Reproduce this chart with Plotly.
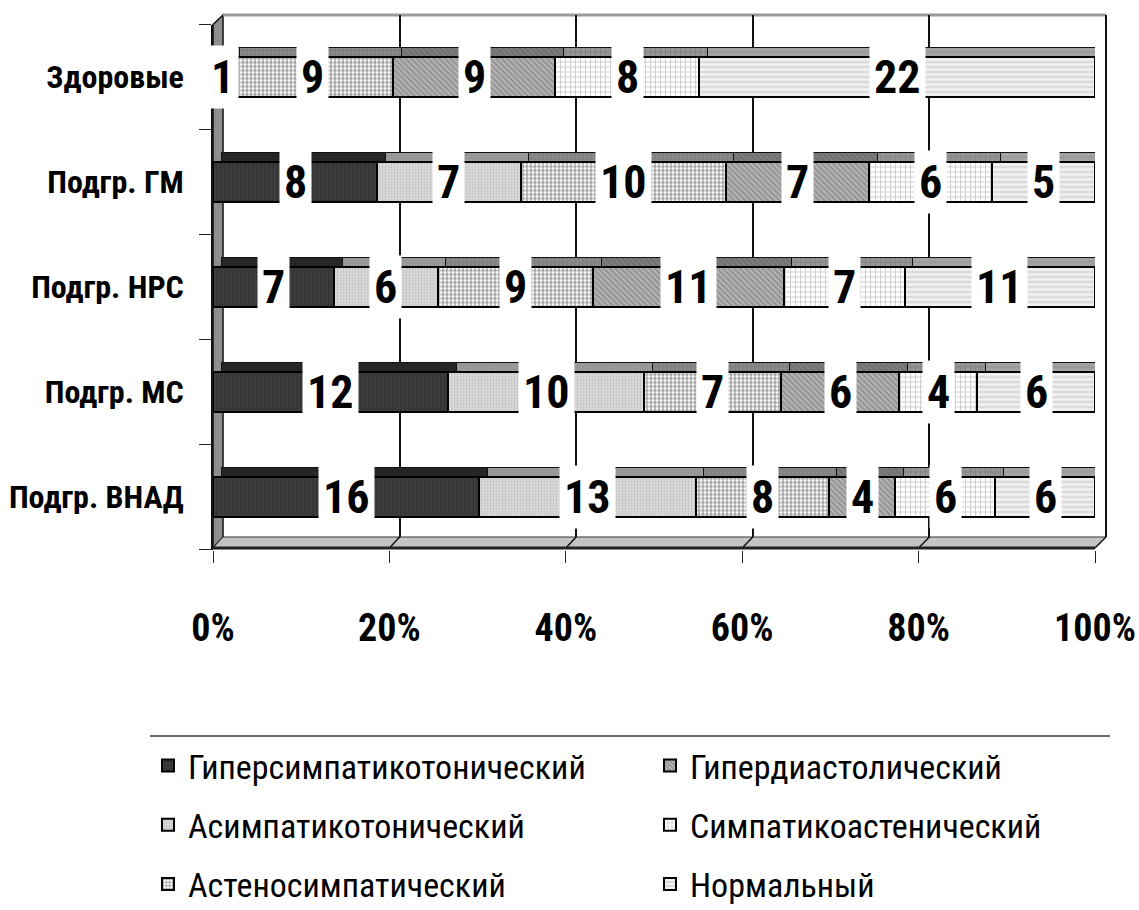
import numpy as np
import plotly.graph_objects as go

# ---- data -------------------------------------------------------------
groups = ["Здоровые", "Подгр. ГМ", "Подгр. НРС", "Подгр. МС", "Подгр. ВНАД"]
series_names = [
    "Гиперсимпатикотонический",
    "Асимпатикотонический",
    "Астеносимпатический",
    "Гипердиастолический",
    "Симпатикоастенический",
    "Нормальный",
]
hypersymp = [0, 8, 7, 12, 16]
asymp = [1, 7, 6, 10, 13]
asteno = [9, 10, 9, 7, 8]
hyperdiast = [9, 7, 11, 6, 4]
sympasth = [8, 6, 7, 4, 6]
normal = [22, 5, 11, 6, 6]
series_values = [hypersymp, asymp, asteno, hyperdiast, sympasth, normal]
x_ticks = [0, 20, 40, 60, 80, 100]
x_tick_text = ["0%", "20%", "40%", "60%", "80%", "100%"]

# ---- styles -----------------------------------------------------------
FONT = "Liberation Sans Narrow, Roboto Condensed, Arial Narrow, sans-serif"
front_styles = [
    dict(color="#353535", pattern=dict(shape=".", fgcolor="#4a4a4a", size=4, solidity=0.3)),
    dict(color="#dcdcdc", pattern=dict(shape=".", fgcolor="#9a9a9a", size=3, solidity=0.35)),
    dict(color="#ffffff", pattern=dict(shape="+", fgcolor="#111111", size=4, solidity=0.45)),
    dict(color="#b4b4b4", pattern=dict(shape="\\", fgcolor="#6a6a6a", size=4, solidity=0.45)),
    dict(color="#ffffff", pattern=dict(shape="+", fgcolor="#8a8a8a", size=5, solidity=0.3)),
    dict(color="#f2f2f2", pattern=dict(shape="-", fgcolor="#b8b8b8", size=5, solidity=0.4)),
]
top_styles = [
    dict(color="#262626"),
    dict(color="#9c9c9c", pattern=dict(shape=".", fgcolor="#808080", size=3, solidity=0.3)),
    dict(color="#8c8c8c", pattern=dict(shape="+", fgcolor="#5a5a5a", size=4, solidity=0.3)),
    dict(color="#7c7c7c", pattern=dict(shape="\\", fgcolor="#5a5a5a", size=4, solidity=0.3)),
    dict(color="#959595", pattern=dict(shape="+", fgcolor="#6e6e6e", size=5, solidity=0.3)),
    dict(color="#a3a3a3", pattern=dict(shape="-", fgcolor="#8a8a8a", size=5, solidity=0.3)),
]

# ---- geometry (page pixels) -------------------------------------------
W, H = 1139, 910
def px(x):
    return x / W
def py(y):
    return 1 - y / H

FX0, FX1 = 213, 1095          # front plane 0 %..100 %
FY0, FY1 = 24.5, 549.5        # front plane category band
WX0, WX1 = 223, 1106          # back wall 0 %..100 %
WY0, WY1 = 15, 537            # back wall top / floor
DX, DY = 8, 10                # depth of the bar top faces
BAR_W = 0.38

n_cat = len(groups)
cat_span = (FY1 - FY0) / n_cat
x_unit = (FX1 - FX0) / 100.0
y_lo, y_hi = -0.5, n_cat - 0.5
cat_order = groups[::-1]

fig = go.Figure()

# wall subplot: carries the back gridlines only
fig.add_trace(go.Scatter(x=[0, 100], y=[0, 1], mode="markers",
                         marker=dict(opacity=0), showlegend=False,
                         hoverinfo="skip", xaxis="x", yaxis="y"))

# top faces (drawn one depth step behind) and front faces of the bars
for i, (name, vals) in enumerate(zip(series_names, series_values)):
    fig.add_trace(go.Bar(
        y=groups, x=vals, orientation="h", width=BAR_W,
        marker=dict(line=dict(color="#111111", width=1), **top_styles[i]),
        showlegend=False, hoverinfo="skip", xaxis="x2", yaxis="y2",
    ))
for i, (name, vals) in enumerate(zip(series_names, series_values)):
    fig.add_trace(go.Bar(
        y=groups, x=vals, orientation="h", width=BAR_W, name=name,
        marker=dict(line=dict(color="#000000", width=2), **front_styles[i]),
        legend="legend" if i < 3 else "legend2", legendgroup=name,
        xaxis="x3", yaxis="y3",
    ))

# value labels on white boxes, centred on each segment
vals_arr = np.array(series_values, dtype=float)
totals = vals_arr.sum(axis=0)
shares = vals_arr / totals * 100
starts = np.cumsum(shares, axis=0) - shares
annotations = []
for i in range(len(series_names)):
    for j, g in enumerate(groups):
        v = series_values[i][j]
        if v == 0:
            continue
        annotations.append(dict(
            x=starts[i, j] + shares[i, j] / 2, y=g, xref="x3", yref="y3",
            text=f"<b>{v}</b>", showarrow=False, bgcolor="white", borderpad=4,
            font=dict(family=FONT, size=46, color="black"),
        ))

shapes = []
# left wall
shapes.append(dict(type="path", xref="paper", yref="paper", layer="below",
                   path=f"M{px(FX0)},{py(FY0)} L{px(WX0)},{py(WY0)} L{px(WX0)},{py(WY1)} "
                        f"L{px(FX0)},{py(548)} Z",
                   fillcolor="#8e8e8e", line=dict(color="#111111", width=1.5)))
# floor
shapes.append(dict(type="path", xref="paper", yref="paper", layer="below",
                   path=f"M{px(FX0)},{py(548)} L{px(FX1)},{py(548)} L{px(WX1)},{py(WY1)} "
                        f"L{px(WX0)},{py(WY1)} Z",
                   fillcolor="#c4c4c4", line=dict(color="#333333", width=1)))
# floor grid continuation from the wall to the front edge
for t in x_ticks[1:]:
    wx = WX0 + t / 100 * (WX1 - WX0)
    fx = FX0 + t / 100 * (FX1 - FX0)
    shapes.append(dict(type="line", xref="paper", yref="paper", layer="below",
                       x0=px(wx), y0=py(WY1), x1=px(fx), y1=py(548),
                       line=dict(color="#111111", width=1.5)))
# wall top edge and right edge
shapes.append(dict(type="line", xref="paper", yref="paper", layer="below",
                   x0=px(WX0), y0=py(WY0), x1=px(WX1), y1=py(WY0),
                   line=dict(color="#9a9a9a", width=3)))
shapes.append(dict(type="line", xref="paper", yref="paper", layer="below",
                   x0=px(WX1), y0=py(WY0), x1=px(WX1), y1=py(WY1),
                   line=dict(color="#111111", width=2)))
# front floor edge
shapes.append(dict(type="line", xref="paper", yref="paper", layer="below",
                   x0=px(FX0), y0=py(548), x1=px(FX1), y1=py(548),
                   line=dict(color="#222222", width=3)))
# legend frame top
shapes.append(dict(type="line", xref="paper", yref="paper",
                   x0=px(150), y0=py(736), x1=px(1110), y1=py(736),
                   line=dict(color="#6e6e6e", width=2)))

dx_units = DX / x_unit
dy_units = DY / cat_span

fig.update_layout(
    width=W, height=H,
    margin=dict(l=0, r=0, t=0, b=0, autoexpand=False),
    paper_bgcolor="white", plot_bgcolor="rgba(0,0,0,0)",
    barmode="stack", barnorm="percent",
    font=dict(family=FONT, color="black"),
    showlegend=True,
    xaxis=dict(domain=[px(WX0), px(WX1)], range=[0, 100], anchor="y",
               showgrid=True, gridcolor="#111111", gridwidth=1.5, dtick=20,
               zeroline=False, showticklabels=False, ticks="", automargin=False),
    yaxis=dict(domain=[py(WY1), py(WY0)], range=[0, 1], anchor="x", automargin=False,
               showgrid=False, zeroline=False, showticklabels=False, ticks=""),
    xaxis2=dict(domain=[px(FX0), px(FX1)], range=[-dx_units, 100 - dx_units], anchor="y2",
                automargin=False,
                showgrid=False, zeroline=False, showticklabels=False, ticks=""),
    yaxis2=dict(domain=[py(FY1), py(FY0)], type="category", categoryorder="array",
                categoryarray=cat_order, range=[y_lo - dy_units, y_hi - dy_units],
                anchor="x2", automargin=False,
                showgrid=False, zeroline=False, showticklabels=False, ticks=""),
    xaxis3=dict(domain=[px(FX0), px(FX1)], range=[0, 100], anchor="y3", overlaying="x2",
                tickvals=x_ticks, ticktext=x_tick_text, ticks="outside", ticklen=12,
                tickcolor="#222222", showgrid=False, zeroline=False, showline=False,
                ticklabelstandoff=33, automargin=False,
                tickfont=dict(family=FONT, size=38, color="black", weight="bold")),
    yaxis3=dict(domain=[py(FY1), py(FY0)], type="category", categoryorder="array",
                categoryarray=cat_order, range=[y_lo, y_hi], anchor="x3", overlaying="y2",
                ticks="outside", tickson="boundaries", ticklen=12, tickcolor="#222222",
                showline=True, linecolor="#111111", linewidth=1.5, automargin=False,
                showgrid=False, zeroline=False, ticklabelstandoff=21,
                tickfont=dict(family=FONT, size=32, color="black", weight="bold")),
    legend=dict(x=px(148), y=py(737), xanchor="left", yanchor="top",
                orientation="v", tracegroupgap=12, bgcolor="rgba(0,0,0,0)",
                font=dict(family=FONT, size=34, color="black")),
    legend2=dict(x=px(650), y=py(737), xanchor="left", yanchor="top",
                 orientation="v", tracegroupgap=12, bgcolor="rgba(0,0,0,0)",
                 font=dict(family=FONT, size=34, color="black")),
    annotations=annotations,
    shapes=shapes,
)

fig.write_html("out.html")
